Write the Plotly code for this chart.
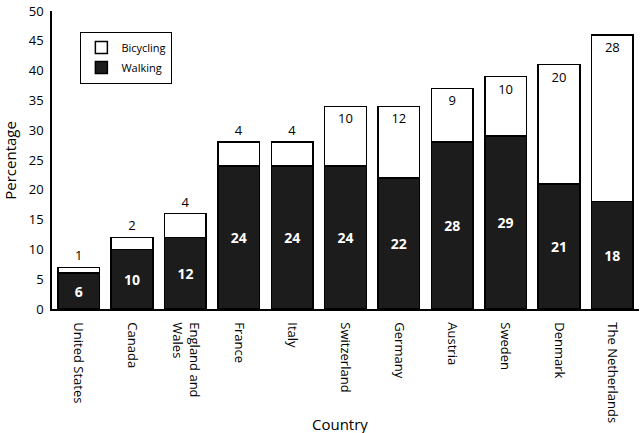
import plotly.graph_objects as go

countries = ["United States", "Canada", "England and<br>Wales", "France", "Italy",
             "Switzerland", "Germany", "Austria", "Sweden", "Denmark", "The Netherlands"]
walking = [6, 10, 12, 24, 24, 24, 22, 28, 29, 21, 18]
bicycling = [1, 2, 4, 4, 4, 10, 12, 9, 10, 20, 28]
y_ticks = [0, 5, 10, 15, 20, 25, 30, 35, 40, 45, 50]

FONT = "Open Sans"
BLACK = "#1c1c1c"

# small shares get their label above the bar, larger ones inside at the top
bike_pos = ["outside" if b < 5 else "inside" for b in bicycling]

fig = go.Figure()
fig.add_trace(go.Bar(
    x=countries, y=walking, name="Walking", legendgroup="w", legendrank=2,
    marker=dict(color=BLACK, line=dict(color="black", width=1.5)),
    text=[str(v) for v in walking], textposition="inside", insidetextanchor="middle",
    textfont=dict(family=FONT, size=14, color="white", weight="bold"),
    constraintext="none",
))
fig.add_trace(go.Bar(
    x=countries, y=bicycling, name="Bicycling", legendgroup="b", legendrank=1,
    marker=dict(color="white", line=dict(color="black", width=1.5)),
    text=[str(v) for v in bicycling], textposition=bike_pos, insidetextanchor="end",
    textfont=dict(family=FONT, size=13, color="black"),
    insidetextfont=dict(family=FONT, size=13, color="black"),
    outsidetextfont=dict(family=FONT, size=13, color="black"),
    constraintext="none", cliponaxis=False,
))

fig.update_layout(
    width=640, height=433,
    barmode="stack", bargap=0.22,
    paper_bgcolor="white", plot_bgcolor="white",
    margin=dict(l=52, r=1, t=11, b=124),
    font=dict(family=FONT, size=13, color="black"),
    showlegend=True,
    legend=dict(
        x=0.048, y=0.93, xanchor="left", yanchor="top",
        bordercolor="black", borderwidth=1.2, bgcolor="white",
        traceorder="grouped", tracegroupgap=1,
        font=dict(family=FONT, size=11),
    ),
    xaxis=dict(
        tickangle=90, showline=True, linecolor="black", linewidth=1.5,
        ticks="outside", ticklen=9, tickcolor="rgba(0,0,0,0)",
        tickfont=dict(size=13), automargin=False,
    ),
    yaxis=dict(
        range=[0, 50], tickmode="array", tickvals=y_ticks,
        showgrid=False, zeroline=False,
        showline=True, linecolor="black", linewidth=1.5,
        ticks="outside", ticklen=4, tickcolor="rgba(0,0,0,0)",
        tickfont=dict(size=13), automargin=False,
    ),
    annotations=[
        dict(text="Country", xref="paper", yref="paper", x=0.49, y=-0.385,
             xanchor="center", yanchor="middle", showarrow=False, font=dict(size=15)),
        dict(text="Percentage", xref="paper", yref="paper", x=-0.072, y=0.5,
             xanchor="center", yanchor="middle", textangle=-90, showarrow=False,
             font=dict(size=15)),
    ],
)

fig.write_html("out.html", config={"displayModeBar": False},
               post_script="document.body.style.margin='0';")
